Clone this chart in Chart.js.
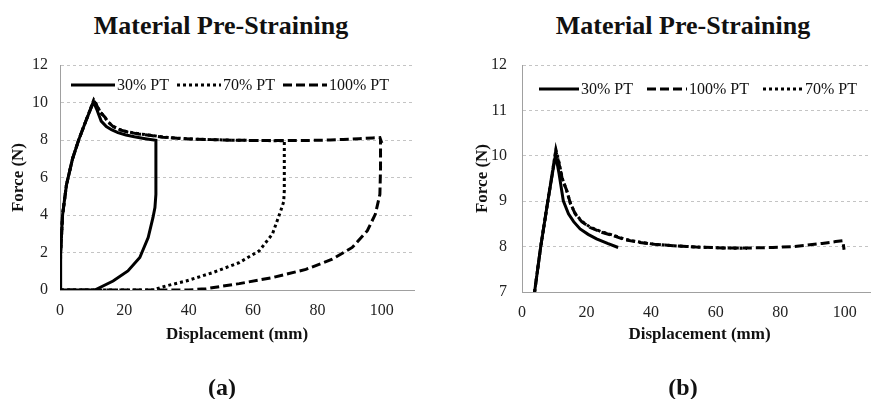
<!DOCTYPE html>
<html lang="en">
  <head>
    <meta charset="UTF-8" />
    <title>Material Pre-Straining</title>
    <script src="https://cdn.jsdelivr.net/npm/chart.js"></script>
    <style>
      html, body {
        margin: 0;
        padding: 0;
        width: 871px;
        height: 399px;
        overflow: hidden;
        background: #fff;
        font-family: 'Liberation Serif', serif;
      }
      .box { position: absolute; top: 0; width: 440px; height: 399px; }
      .title {
        position: absolute;
        width: 400px;
        text-align: center;
        font-weight: bold;
        font-size: 26px;
        line-height: 30px;
        color: #111;
      }
      .tag {
        position: absolute;
        width: 100px;
        text-align: center;
        font-weight: bold;
        font-size: 24px;
        line-height: 30px;
        color: #111;
      }
    </style>
  </head>
  <body>
    <div class="title" style="left:21px; top:11px;">Material Pre-Straining</div>
    <div class="title" style="left:483px; top:11px;">Material Pre-Straining</div>

    <div class="box" style="left:0;"><canvas id="chartA"></canvas></div>
    <div class="box" style="left:440px;"><canvas id="chartB"></canvas></div>

    <div class="tag" style="left:172px; top:372px;">(a)</div>
    <div class="tag" style="left:633px; top:372px;">(b)</div>

    <script>
      // --- data (displacement mm, force N) ---
      // loading part (stretch up to the pre-strain)
      const load30X  = [0, 0.2, 0.8, 2.0, 3.9, 5.8, 8.0, 10.4, 11.5, 12.8, 14.4, 16.0, 18.0, 20.5, 23.1, 26.5, 29.8];
      const load30Y  = [0, 2.0, 4.0, 5.6, 7.0, 8.0, 9.0, 10.03, 9.6, 9.01, 8.72, 8.55, 8.39, 8.27, 8.17, 8.07, 7.98];

      const load70X  = [0, 0.2, 0.8, 2.0, 3.9, 5.8, 8.0, 10.5, 11.5, 12.5, 13.9, 15.0, 16.5, 18.5, 21.1, 24.5, 28.3, 32.0, 36.5, 41.0, 46.8, 54.0, 62.2, 69.7];
      const load70Y  = [0, 2.0, 4.0, 5.6, 7.0, 8.0, 9.0, 10.14, 9.85, 9.5, 9.22, 8.95, 8.73, 8.56, 8.43, 8.33, 8.25, 8.16, 8.1, 8.05, 8.02, 7.99, 7.97, 7.96];

      const load100X = [0, 0.2, 0.8, 2.0, 3.9, 5.8, 8.0, 10.5, 11.5, 12.5, 13.9, 15.0, 16.5, 18.5, 21.1, 24.5, 28.3, 32.0, 36.5, 41.0, 46.8, 54.0, 62.2, 70.0, 77.7, 84.0, 88.0, 93.0, 97.2, 99.4, 99.8];
      const load100Y = [0, 2.0, 4.0, 5.6, 7.0, 8.0, 9.0, 10.1, 9.82, 9.48, 9.23, 8.95, 8.72, 8.55, 8.42, 8.32, 8.24, 8.15, 8.09, 8.05, 8.02, 7.99, 7.97, 7.97, 7.98, 8.0, 8.03, 8.07, 8.11, 8.13, 7.93];

      // unloading part (return to zero force, then back to start)
      const unload30X  = [29.8, 29.8, 29.5, 28.9, 27.4, 24.8, 21.1, 16.5, 10.8, 0];
      const unload30Y  = [7.98, 5.1, 4.4, 3.87, 2.8, 1.73, 1.02, 0.48, 0, 0];
      const unload70X  = [69.7, 69.7, 69.5, 68.6, 66.0, 61.9, 55.7, 47.5, 39.2, 33.0, 28.9, 0];
      const unload70Y  = [7.96, 5.3, 4.7, 4.23, 2.98, 2.09, 1.46, 0.93, 0.48, 0.22, 0, 0];
      const unload100X = [99.6, 99.6, 99.4, 98.0, 95.5, 90.8, 84.6, 76.4, 66.0, 55.7, 45.4, 40.0, 0];
      const unload100Y = [7.93, 6.5, 5.1, 4.05, 3.16, 2.27, 1.64, 1.1, 0.66, 0.34, 0.07, 0, 0];

      const xTicks = [0, 20, 40, 60, 80, 100];
      const yTicksA = [0, 2, 4, 6, 8, 10, 12];
      const yTicksB = [7, 8, 9, 10, 11, 12];

      const pts = (xs, ys) => xs.map((x, i) => ({ x: x, y: ys[i] }));

      const styles = {
        '30% PT':  { borderDash: [] },
        '70% PT':  { borderDash: [3, 3] },
        '100% PT': { borderDash: [9, 4] }
      };

      function ds(name, data) {
        return Object.assign({
          label: name,
          data: data,
          showLine: true,
          borderColor: '#000',
          borderWidth: 3,
          pointRadius: 0,
          tension: 0,
          fill: false
        }, styles[name]);
      }

      const serif = "'Liberation Serif', 'Times New Roman', serif";
      Chart.defaults.font.family = serif;
      Chart.defaults.color = '#222';
      Chart.defaults.animation = false;

      // legend drawn inside the plot area, like the original
      const inlineLegend = {
        id: 'inlineLegend',
        afterDatasetsDraw(chart, args, opts) {
          const ctx = chart.ctx;
          let x = opts.x;
          const y = opts.y;
          ctx.save();
          ctx.font = '16px ' + serif;
          ctx.textBaseline = 'middle';
          ctx.fillStyle = '#111';
          chart.data.datasets.forEach(d => {
            ctx.beginPath();
            ctx.lineWidth = d.borderWidth;
            ctx.strokeStyle = d.borderColor;
            ctx.setLineDash(d.borderDash || []);
            ctx.moveTo(x, y);
            ctx.lineTo(x + opts.sample, y);
            ctx.stroke();
            x += opts.sample + 2;
            ctx.fillText(d.label, x, y + 1);
            x += ctx.measureText(d.label).width + opts.gap;
          });
          ctx.restore();
        }
      };

      function makeOptions(yMin, yMax, yTicks, yAxisWidth, yTitlePad, legend) {
        return {
          responsive: true,
          maintainAspectRatio: false,
          layout: { padding: { top: 65, right: legend.padRight, bottom: legend.padBottom, left: 0 } },
          plugins: {
            legend: { display: false },
            tooltip: { enabled: false },
            inlineLegend: legend
          },
          scales: {
            x: {
              type: 'linear',
              min: 0,
              max: 110,
              afterBuildTicks: s => { s.ticks = xTicks.map(v => ({ value: v })); },
              afterFit: s => { s.height = 60; },
              ticks: { font: { family: serif, size: 16 }, color: '#222', padding: 11 },
              grid: { display: false, drawTicks: false },
              border: { display: true, color: '#a0a0a0', width: 1 },
              title: {
                display: true,
                text: 'Displacement (mm)',
                font: { family: serif, size: 17, weight: 'bold' },
                color: '#111',
                padding: { top: 0, bottom: legend.xTitlePad }
              }
            },
            y: {
              type: 'linear',
              min: yMin,
              max: yMax,
              afterBuildTicks: s => { s.ticks = yTicks.map(v => ({ value: v })); },
              afterFit: s => { s.width = yAxisWidth; },
              ticks: { font: { family: serif, size: 16 }, color: '#222', padding: legend.tickPad },
              grid: { color: '#c4c4c4', lineWidth: 1, drawTicks: false },
              border: { display: true, color: '#a0a0a0', width: 1, dash: [3, 3] },
              title: {
                display: true,
                text: 'Force (N)',
                font: { family: serif, size: 17, weight: 'bold' },
                color: '#111',
                padding: { top: yTitlePad, bottom: 0 }
              }
            }
          }
        };
      }

      // (a) full loading / unloading cycles
      new Chart(document.getElementById('chartA'), {
        type: 'scatter',
        data: {
          datasets: [
            ds('30% PT', pts(load30X.concat(unload30X), load30Y.concat(unload30Y))),
            ds('70% PT', pts(load70X.concat(unload70X), load70Y.concat(unload70Y))),
            ds('100% PT', pts(load100X.concat(unload100X), load100Y.concat(unload100Y)))
          ]
        },
        options: makeOptions(0, 12, yTicksA, 60, 8,
          { x: 71, y: 85, sample: 44, gap: 8, padRight: 26, padBottom: 49, tickPad: 12, xTitlePad: 5 }),
        plugins: [inlineLegend]
      });

      // (b) zoom on the loading part, 7-12 N
      new Chart(document.getElementById('chartB'), {
        type: 'scatter',
        data: {
          datasets: [
            ds('30% PT', pts(load30X, load30Y)),
            ds('100% PT', pts(load100X, load100Y)),
            ds('70% PT', pts(load70X, load70Y))
          ]
        },
        options: makeOptions(7, 12, yTicksB, 82, 32,
          { x: 99, y: 89, sample: 40, gap: 14, padRight: 3, padBottom: 47, tickPad: 15, xTitlePad: 7 }),
        plugins: [inlineLegend]
      });
    </script>
  </body>
</html>
